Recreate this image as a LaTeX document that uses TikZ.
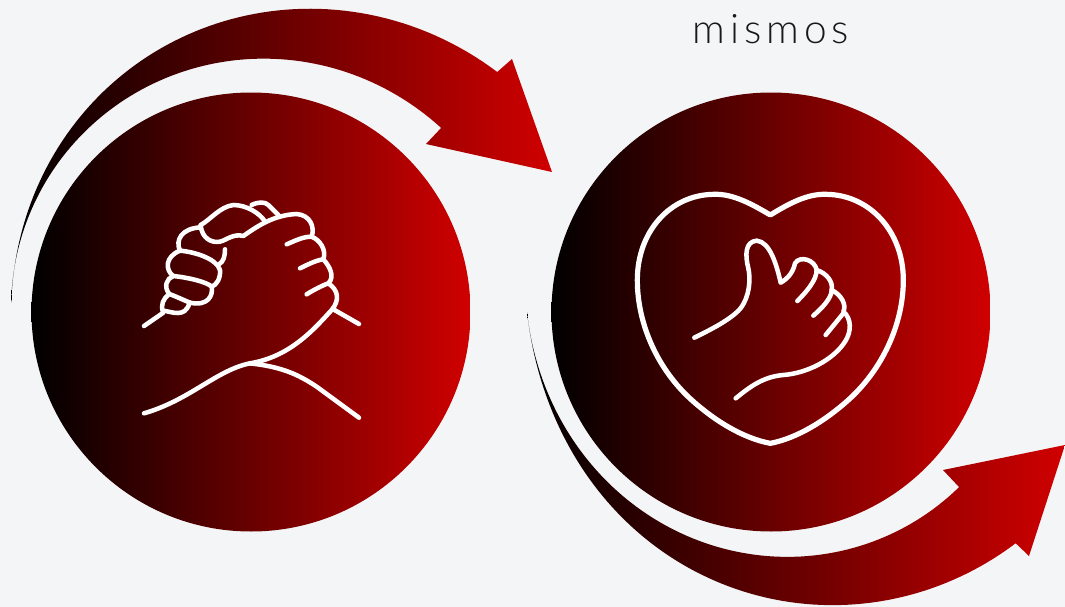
\documentclass[tikz,border=0pt]{standalone}
\usepackage{fontspec}
\setmainfont{Lato}
\newfontfamily\lblfont[LetterSpace=12]{Lato Light}
\definecolor{pagebg}{HTML}{F4F5F7}
\definecolor{gradend}{HTML}{D00000}
\tikzset{
  redgrad/.style={left color=black,right color=gradend,draw=none},
  iconline/.style={draw=white,line width=3.4pt,line cap=round,line join=round},
  heartline/.style={draw=white,line width=3.9pt,line cap=round,line join=round},
}
\begin{document}
\begin{tikzpicture}[x=0.75pt,y=-0.75pt]
\path[use as bounding box,fill=pagebg] (0,0) rectangle (1065,607);
% arrows
\path[redgrad] plot[domain=0:1.337,samples=90] ({251+(240+105.6*\x*\x-35.5*\x*\x*\x)*cos(177.9-100*\x)},{312-(240+105.6*\x*\x-35.5*\x*\x*\x)*sin(177.9-100*\x)})
  -- (512,59) -- (552,172) -- (426,144) -- (442,127)
  -- plot[domain=1.338:0,samples=90] ({251+(240+8*\x+7.8*\x*\x)*cos(177.9-100*\x)},{312-(240+8*\x+7.8*\x*\x)*sin(177.9-100*\x)}) -- cycle;
\path[redgrad] plot[domain=0:1.367,samples=90] ({771-(244-48.5*\x+148*\x*\x-46*\x*\x*\x)*cos(100*\x)},{312+(244-48.5*\x+148*\x*\x-46*\x*\x*\x)*sin(100*\x)})
  -- (1029,556) -- (1065,445) -- (943,470) -- (959,487)
  -- plot[domain=1.37:0,samples=90] ({771-(244-46.6*\x+73.8*\x*\x-24*\x*\x*\x)*cos(100*\x)},{312+(244-46.6*\x+73.8*\x*\x-24*\x*\x*\x)*sin(100*\x)}) -- cycle;
% discs
\path[redgrad] (251,312) circle [radius=219.5];
\path[redgrad] (771,312) circle [radius=219.5];
% handshake icon
\begin{scope}[xshift=97.5pt,yshift=-142.5pt,x=0.25pt,y=-0.25pt]
\draw[iconline] (42,408) -- (100,368)
  .. controls (90,345) and (100,325) .. (118,312)
  .. controls (140,320) and (160,330) .. (180,338);
\draw[iconline] (100,362) .. controls (125,365) and (165,385) .. (178,340);
\draw[iconline] (118,312) .. controls (100,290) and (110,265) .. (130,258)
  .. controls (170,262) and (230,275) .. (245,290)
  .. controls (250,315) and (235,350) .. (180,338);
\draw[iconline] (130,258) .. controls (105,240) and (105,200) .. (150,182)
  .. controls (190,185) and (260,205) .. (270,240)
  .. controls (272,265) and (260,285) .. (245,290);
\draw[iconline] (150,182) .. controls (135,150) and (155,115) .. (212,112);
\draw[iconline] (285,178) .. controls (285,200) and (280,215) .. (268,222);
\draw[iconline] (212,105) .. controls (215,145) and (245,160) .. (270,155)
  .. controls (290,150) and (310,130) .. (340,138)
  .. controls (380,110) and (430,75) .. (500,72)
  .. controls (540,75) and (555,110) .. (545,140)
  .. controls (570,150) and (590,180) .. (580,208)
  .. controls (600,230) and (615,260) .. (595,280)
  .. controls (625,300) and (630,330) .. (605,360)
  .. controls (550,420) and (480,500) .. (360,520)
  .. controls (260,540) and (180,630) .. (42,670);
\draw[iconline] (212,105) .. controls (240,90) and (270,50) .. (310,45)
  .. controls (350,45) and (390,70) .. (405,95);
\draw[iconline] (365,45) .. controls (385,35) and (405,35) .. (415,45) -- (445,75);
\draw[iconline] (470,163) .. controls (500,150) and (520,140) .. (545,140);
\draw[iconline] (510,235) .. controls (530,225) and (560,210) .. (580,208);
\draw[iconline] (530,313) .. controls (550,300) and (580,285) .. (595,280);
\draw[iconline] (610,358) -- (687,402);
\draw[iconline] (360,520) .. controls (450,530) and (500,550) .. (560,590) -- (687,683);
\end{scope}
% heart icon
\begin{scope}[xshift=472.5pt,yshift=-138.75pt,x=0.25pt,y=-0.25pt]
\draw[heartline] (421,90) .. controls (370,60) and (310,25) .. (250,28)
  .. controls (120,30) and (22,140) .. (22,285)
  .. controls (22,420) and (85,555) .. (185,645)
  .. controls (255,708) and (340,760) .. (421,775)
  .. controls (500,760) and (585,708) .. (655,645)
  .. controls (755,555) and (820,420) .. (820,285)
  .. controls (820,140) and (720,30) .. (590,28)
  .. controls (530,25) and (470,60) .. (421,90) -- cycle;
\draw[iconline] (193,458) .. controls (240,435) and (300,405) .. (330,372)
  .. controls (360,335) and (362,280) .. (355,250)
  .. controls (345,210) and (345,170) .. (380,167)
  .. controls (420,170) and (440,240) .. (452,293)
  .. controls (475,280) and (490,260) .. (495,235)
  .. controls (510,210) and (555,225) .. (560,255)
  .. controls (590,265) and (610,290) .. (605,315)
  .. controls (635,330) and (650,360) .. (640,380)
  .. controls (665,400) and (665,440) .. (645,470)
  .. controls (610,525) and (530,565) .. (460,570)
  .. controls (400,575) and (360,605) .. (317,640);
\draw[iconline] (502,348) .. controls (530,320) and (560,285) .. (560,255);
\draw[iconline] (550,392) .. controls (575,370) and (605,340) .. (605,315);
\draw[iconline] (587,450) -- (640,385);
\end{scope}
\node[anchor=base,inner sep=0pt,text=black!90] (lbl) at (771,43) {\fontsize{30.5pt}{30.5pt}\lblfont mismos};
\end{tikzpicture}
\end{document}
